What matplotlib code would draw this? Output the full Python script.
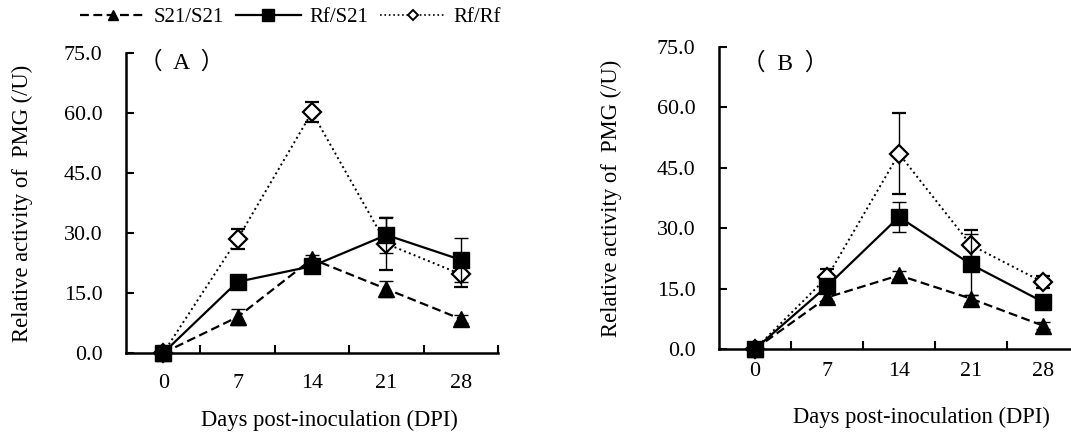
import matplotlib.pyplot as plt
from matplotlib.lines import Line2D

plt.rcParams['font.family'] = ['Liberation Serif', 'Noto Sans CJK SC']

# Данные
days = ['0', '7', '14', '21', '28']

s21_a = [0, 9.0, 23.5, 16.0, 8.5]
s21_a_err = [0, 2.0, 1.0, 2.0, 1.0]
rfs21_a = [0, 17.8, 21.7, 29.5, 23.3]
rfs21_a_err = [0, 1.0, 1.0, 4.5, 5.5]
rfrf_a = [0, 28.5, 60.2, 27.3, 19.7]
rfrf_a_err = [0, 2.5, 2.5, 6.5, 3.2]

s21_b = [0, 12.8, 18.3, 12.5, 5.8]
s21_b_err = [0, 1.0, 1.0, 1.0, 0.8]
rfs21_b = [0, 15.6, 32.8, 21.0, 11.7]
rfs21_b_err = [0, 1.5, 3.8, 7.5, 1.0]
rfrf_b = [0, 17.8, 48.5, 25.8, 16.6]
rfrf_b_err = [0, 2.0, 10.0, 3.7, 1.5]

yticks = [0, 15, 30, 45, 60, 75]
fs_tick = 15.8
fs_lab = 16.3

fig = plt.figure(figsize=(10.71, 4.34), dpi=100)
ax_a = fig.add_axes([126 / 1071, 81 / 434, 372 / 1071, 300 / 434])
ax_b = fig.add_axes([719 / 1071, 85 / 434, 360 / 1071, 302 / 434])


def draw_panel(ax, s21, s21e, rfs, rfse, rfrf, rfrfe, label, lx, ly,
               ylab_x, xlab_x, xtick_pad):
    x = list(range(len(days)))
    ax.errorbar(x, rfrf, yerr=rfrfe, color='black', ls=':', lw=1.4,
                marker='D', ms=9.5, mfc='white', mec='black', mew=1.6,
                ecolor='black', elinewidth=1, capsize=5, capthick=1,
                clip_on=False, zorder=3)
    ax.errorbar(x, rfs, yerr=rfse, color='black', ls='-', lw=1.6,
                marker='s', ms=12, mfc='black', mec='black',
                ecolor='black', elinewidth=1, capsize=5, capthick=1,
                clip_on=False, zorder=4)
    ax.errorbar(x, s21, yerr=s21e, color='black', ls=(0, (4, 2)), lw=1.6,
                marker='^', ms=12, mfc='black', mec='black',
                ecolor='black', elinewidth=1, capsize=5, capthick=1,
                clip_on=False, zorder=5)

    ax.set_xlim(-0.5, len(days) - 0.5)
    ax.set_ylim(0, 75)
    ax.set_yticks(yticks)
    ax.set_yticklabels([f'{v:.1f}' for v in yticks], fontsize=fs_tick)
    ax.set_xticks([i + 0.5 for i in range(len(days))])
    ax.set_xticklabels([])
    ax.set_xticks(x, minor=True)
    ax.set_xticklabels(days, minor=True, fontsize=fs_tick)
    ax.tick_params(axis='x', which='major', direction='in', length=6, width=1.5)
    ax.tick_params(axis='x', which='minor', length=0, pad=xtick_pad)
    ax.tick_params(axis='y', direction='in', length=6, width=1.5, pad=17)
    for s in ['top', 'right']:
        ax.spines[s].set_visible(False)
    for s in ['left', 'bottom']:
        ax.spines[s].set_linewidth(1.8)

    ax.set_ylabel('Relative activity of  PMG (/U)', fontsize=fs_lab)
    ax.yaxis.set_label_coords(ylab_x, 0.5)
    ax.set_xlabel('Days post-inoculation (DPI)', fontsize=fs_lab)
    ax.xaxis.set_label_coords(xlab_x, -0.19)
    ax.text(lx, ly, label, transform=ax.transAxes, fontsize=17,
            ha='left', va='center')


draw_panel(ax_a, s21_a, s21_a_err, rfs21_a, rfs21_a_err, rfrf_a, rfrf_a_err,
           '（  A  ）', 0.035, 0.967, -0.25, 0.548, 15)
draw_panel(ax_b, s21_b, s21_b_err, rfs21_b, rfs21_b_err, rfrf_b, rfrf_b_err,
           '（  B  ）', 0.065, 0.944, -0.27, 0.561, 9)

# Легенда
handles = [
    Line2D([], [], color='black', ls=(0, (4, 2)), lw=1.6, marker='^', ms=7),
    Line2D([], [], color='black', ls='-', lw=1.6, marker='s', ms=8),
    Line2D([], [], color='black', ls=':', lw=1.2, marker='D', ms=5,
           mfc='white', mew=1.4),
]
fig.legend(handles, ['S21/S21', 'Rf/S21', 'Rf/Rf'], loc='center left',
           bbox_to_anchor=(70 / 1071, 1 - 17 / 434), ncol=3, frameon=False,
           fontsize=15, handlelength=3.1, handletextpad=0.4,
           columnspacing=0.6, borderpad=0)

fig.savefig('out.png', dpi=100)
